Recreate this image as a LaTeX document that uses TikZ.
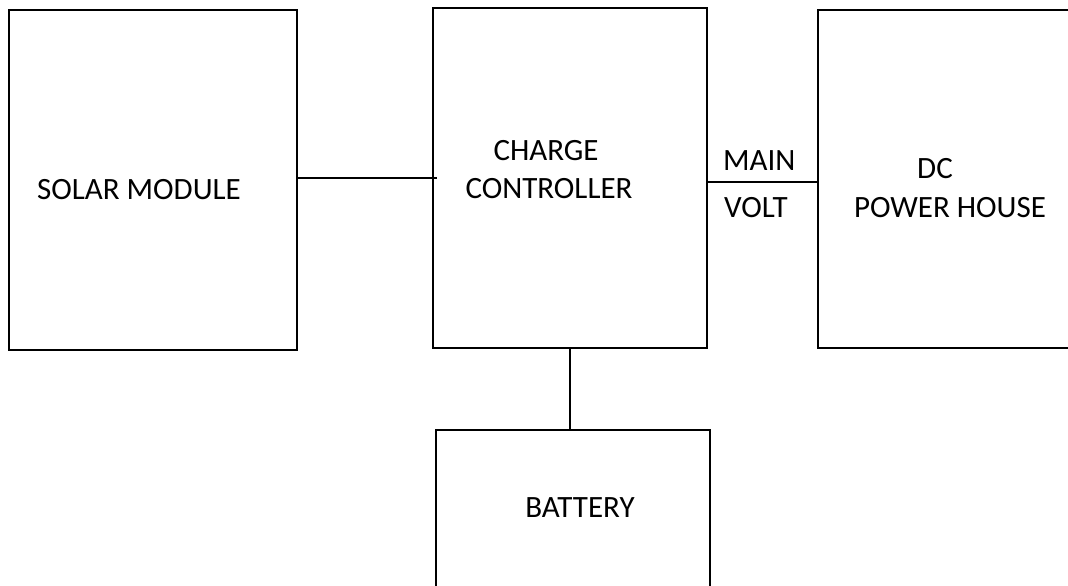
\documentclass[tikz,border=0pt]{standalone}
\usepackage{fontspec}
\setmainfont{Carlito}
\usetikzlibrary{positioning}
\tikzset{
  blockbox/.style={draw, line width=1pt, inner sep=0pt},
  blocktext/.style={anchor=base, inner sep=0pt, font=\fontsize{15.5}{18}\selectfont},
  wire/.style={line width=1pt}
}

\begin{document}
\begin{tikzpicture}[x=0.5pt, y=-0.5pt]
  \path[use as bounding box, clip] (0,0) rectangle (1068,585);

  \node[blockbox, minimum width=144pt, minimum height=170pt] (solar) at (153,180) {};
  \node[blockbox, minimum width=137pt, minimum height=170pt] (ctrl) at (570,178) {};
  \node[blockbox, minimum width=130pt, minimum height=169pt] (dc) at (948,179) {};
  \node[blockbox, minimum width=137pt, minimum height=85pt] (battery) at (573,515) {};

  \node[blocktext] (solartext) at (139,199) {SOLAR MODULE};
  \node[blocktext] (ctrltop) at (546,160) {CHARGE};
  \node[blocktext] (ctrlbot) at (549,198) {CONTROLLER};
  \node[blocktext] (dctop) at (935,178) {DC};
  \node[blocktext] (dcbot) at (950,217) {POWER HOUSE};
  \node[blocktext] (batterytext) at (580,517) {BATTERY};

  \draw[wire, shorten >=-2.5pt] ([shift={(0,-2)}]solar.east) -- ([shift={(0,-2)}]solar.east -| ctrl.west);
  \draw[wire, shorten >=-1pt] ([shift={(0,4)}]ctrl.east) -- ([shift={(0,4)}]ctrl.east -| dc.west)
    node[blocktext, pos=0.47, above=5.5pt] (mainlbl) {MAIN}
    node[blocktext, pos=0.44, below=7pt] (voltlbl) {VOLT};
  \draw[wire, shorten >=-1pt] (ctrl.south) -- (ctrl.south |- battery.north);
\end{tikzpicture}
\end{document}
